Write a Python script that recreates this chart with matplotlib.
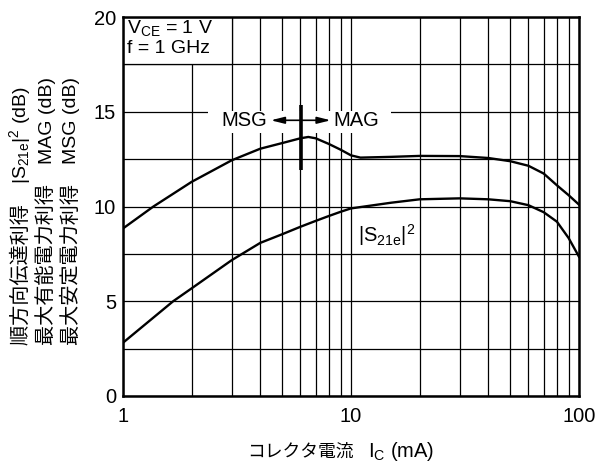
import numpy as np
import matplotlib
matplotlib.use("Agg")
import matplotlib.pyplot as plt
from matplotlib.patches import Rectangle
from matplotlib.ticker import FixedLocator, NullFormatter

plt.rcParams['font.family'] = ['Liberation Sans', 'Noto Sans CJK JP', 'DejaVu Sans']
plt.rcParams['mathtext.fontset'] = 'custom'
plt.rcParams['mathtext.rm'] = 'Liberation Sans'
plt.rcParams['mathtext.it'] = 'Liberation Sans'

# MSG / MAG curve (dB) vs collector current (mA)
ic_gain = [1, 1.36, 2, 3, 4, 5, 6, 6.5, 7, 8, 9, 10, 11, 15, 20, 30, 40, 50, 60, 70, 80, 90, 100]
gain_max = [8.84, 10.0, 11.3, 12.44, 13.05, 13.35, 13.6, 13.67, 13.6, 13.3, 13.0, 12.7, 12.58,
            12.62, 12.67, 12.66, 12.56, 12.39, 12.15, 11.74, 11.12, 10.6, 10.1]

# |S21e|^2 curve (dB)
ic_s21 = [1, 1.66, 2, 3, 4, 5, 6, 7, 8, 9, 10, 15, 20, 30, 40, 50, 60, 70, 80, 90, 100]
s21 = [2.81, 5.0, 5.68, 7.17, 8.08, 8.54, 8.93, 9.24, 9.5, 9.72, 9.9, 10.2, 10.38, 10.43,
       10.38, 10.28, 10.07, 9.7, 9.2, 8.34, 7.35]

x_ticks = [1, 10, 100]
x_labels = ['1', '10', '100']
y_ticks = [0, 5, 10, 15, 20]

S21 = r'|S$_{\mathregular{21e}}$|$^{\mathregular{2}}$'
ylab_lines = [['順方向伝達利得　', S21 + ' (dB)'],
              ['最大有能電力利得　', 'MAG (dB)'],
              ['最大安定電力利得　', 'MSG (dB)']]

W, H = 599, 465
fig = plt.figure(figsize=(W / 100, H / 100), dpi=100)
ax = fig.add_axes([0.2053, 0.1484, 0.7613, 0.815])

ax.set_xscale('log')
ax.set_xlim(1, 100)
ax.set_ylim(0, 20)
ax.set_xticks(x_ticks)
ax.set_xticklabels(x_labels)
ax.xaxis.set_minor_locator(FixedLocator([2, 3, 4, 5, 6, 7, 8, 9, 20, 30, 40, 50, 60, 70, 80, 90]))
ax.xaxis.set_minor_formatter(NullFormatter())
ax.set_yticks(y_ticks)
ax.yaxis.set_minor_locator(FixedLocator([2.5, 7.5, 12.5, 17.5]))
ax.tick_params(which='both', length=0, labelsize=14.5, colors='black')
ax.tick_params(axis='x', pad=8)
ax.tick_params(axis='y', pad=5)
ax.grid(which='both', color='black', lw=0.9, zorder=1)
ax.set_axisbelow(True)
for s in ax.spines.values():
    s.set_linewidth(1.8)
    s.set_zorder(6)

ax.plot(ic_gain, gain_max, color='black', lw=1.7, zorder=3)
ax.plot(ic_s21, s21, color='black', lw=1.7, zorder=3)

# condition box in the top-left corner
ax.add_patch(Rectangle((1, 17.5), 2, 2.5, facecolor='white', edgecolor='black', lw=0.9, zorder=2))
ax.text(1.04, 19.4, r'V$_{\mathregular{CE}}$ = 1 V', fontsize=14, va='center', ha='left', zorder=4)
ax.text(1.04, 18.35, 'f = 1 GHz', fontsize=14, va='center', ha='left', zorder=4)

# MSG <- | -> MAG
ax.add_patch(Rectangle((2.37, 13.9), 15.0 - 2.37, 1.15, facecolor='white', edgecolor='none', zorder=2))
ax.text(4.3, 14.55, 'MSG', fontsize=14.5, ha='right', va='center', zorder=4)
ax.text(8.4, 14.55, 'MAG', fontsize=14.5, ha='left', va='center', zorder=4)
arr = dict(arrowstyle='-|>,head_length=0.8,head_width=0.2', color='black', lw=1.2, shrinkA=0, shrinkB=0)
ax.annotate('', xy=(4.45, 14.55), xytext=(6.02, 14.55), arrowprops=arr, zorder=4)
ax.annotate('', xy=(8.15, 14.55), xytext=(6.02, 14.55), arrowprops=arr, zorder=4)
ax.plot([6.02, 6.02], [11.95, 15.35], color='black', lw=2.6, solid_capstyle='butt', zorder=5)

ax.text(14.3, 8.5, S21, fontsize=14.5, ha='center', va='center', zorder=4)

# y label: three rotated lines, CJK part and latin/math part chained
fig.canvas.draw()
r = fig.canvas.get_renderer()
kw = dict(rotation=90, rotation_mode='anchor', ha='left', va='baseline')
for xb, parts in zip([26.5, 51.5, 76.5], ylab_lines):
    y = H - 345
    for txt, fs in zip(parts, [14.5, 14]):
        t = fig.text(xb / W, y / H, txt, fontsize=fs, **kw)
        y = t.get_window_extent(r).y1

# x label
yb = (H - 457) / H
tx = fig.text(247 / W, yb, 'コレクタ電流', fontsize=12.8, ha='left', va='baseline')
x1 = tx.get_window_extent(r).x1
fig.text((x1 + 14) / W, yb, r'I$_{\mathregular{C}}$ (mA)', fontsize=14.5, ha='left', va='baseline')

fig.savefig('out.png', dpi=100)
